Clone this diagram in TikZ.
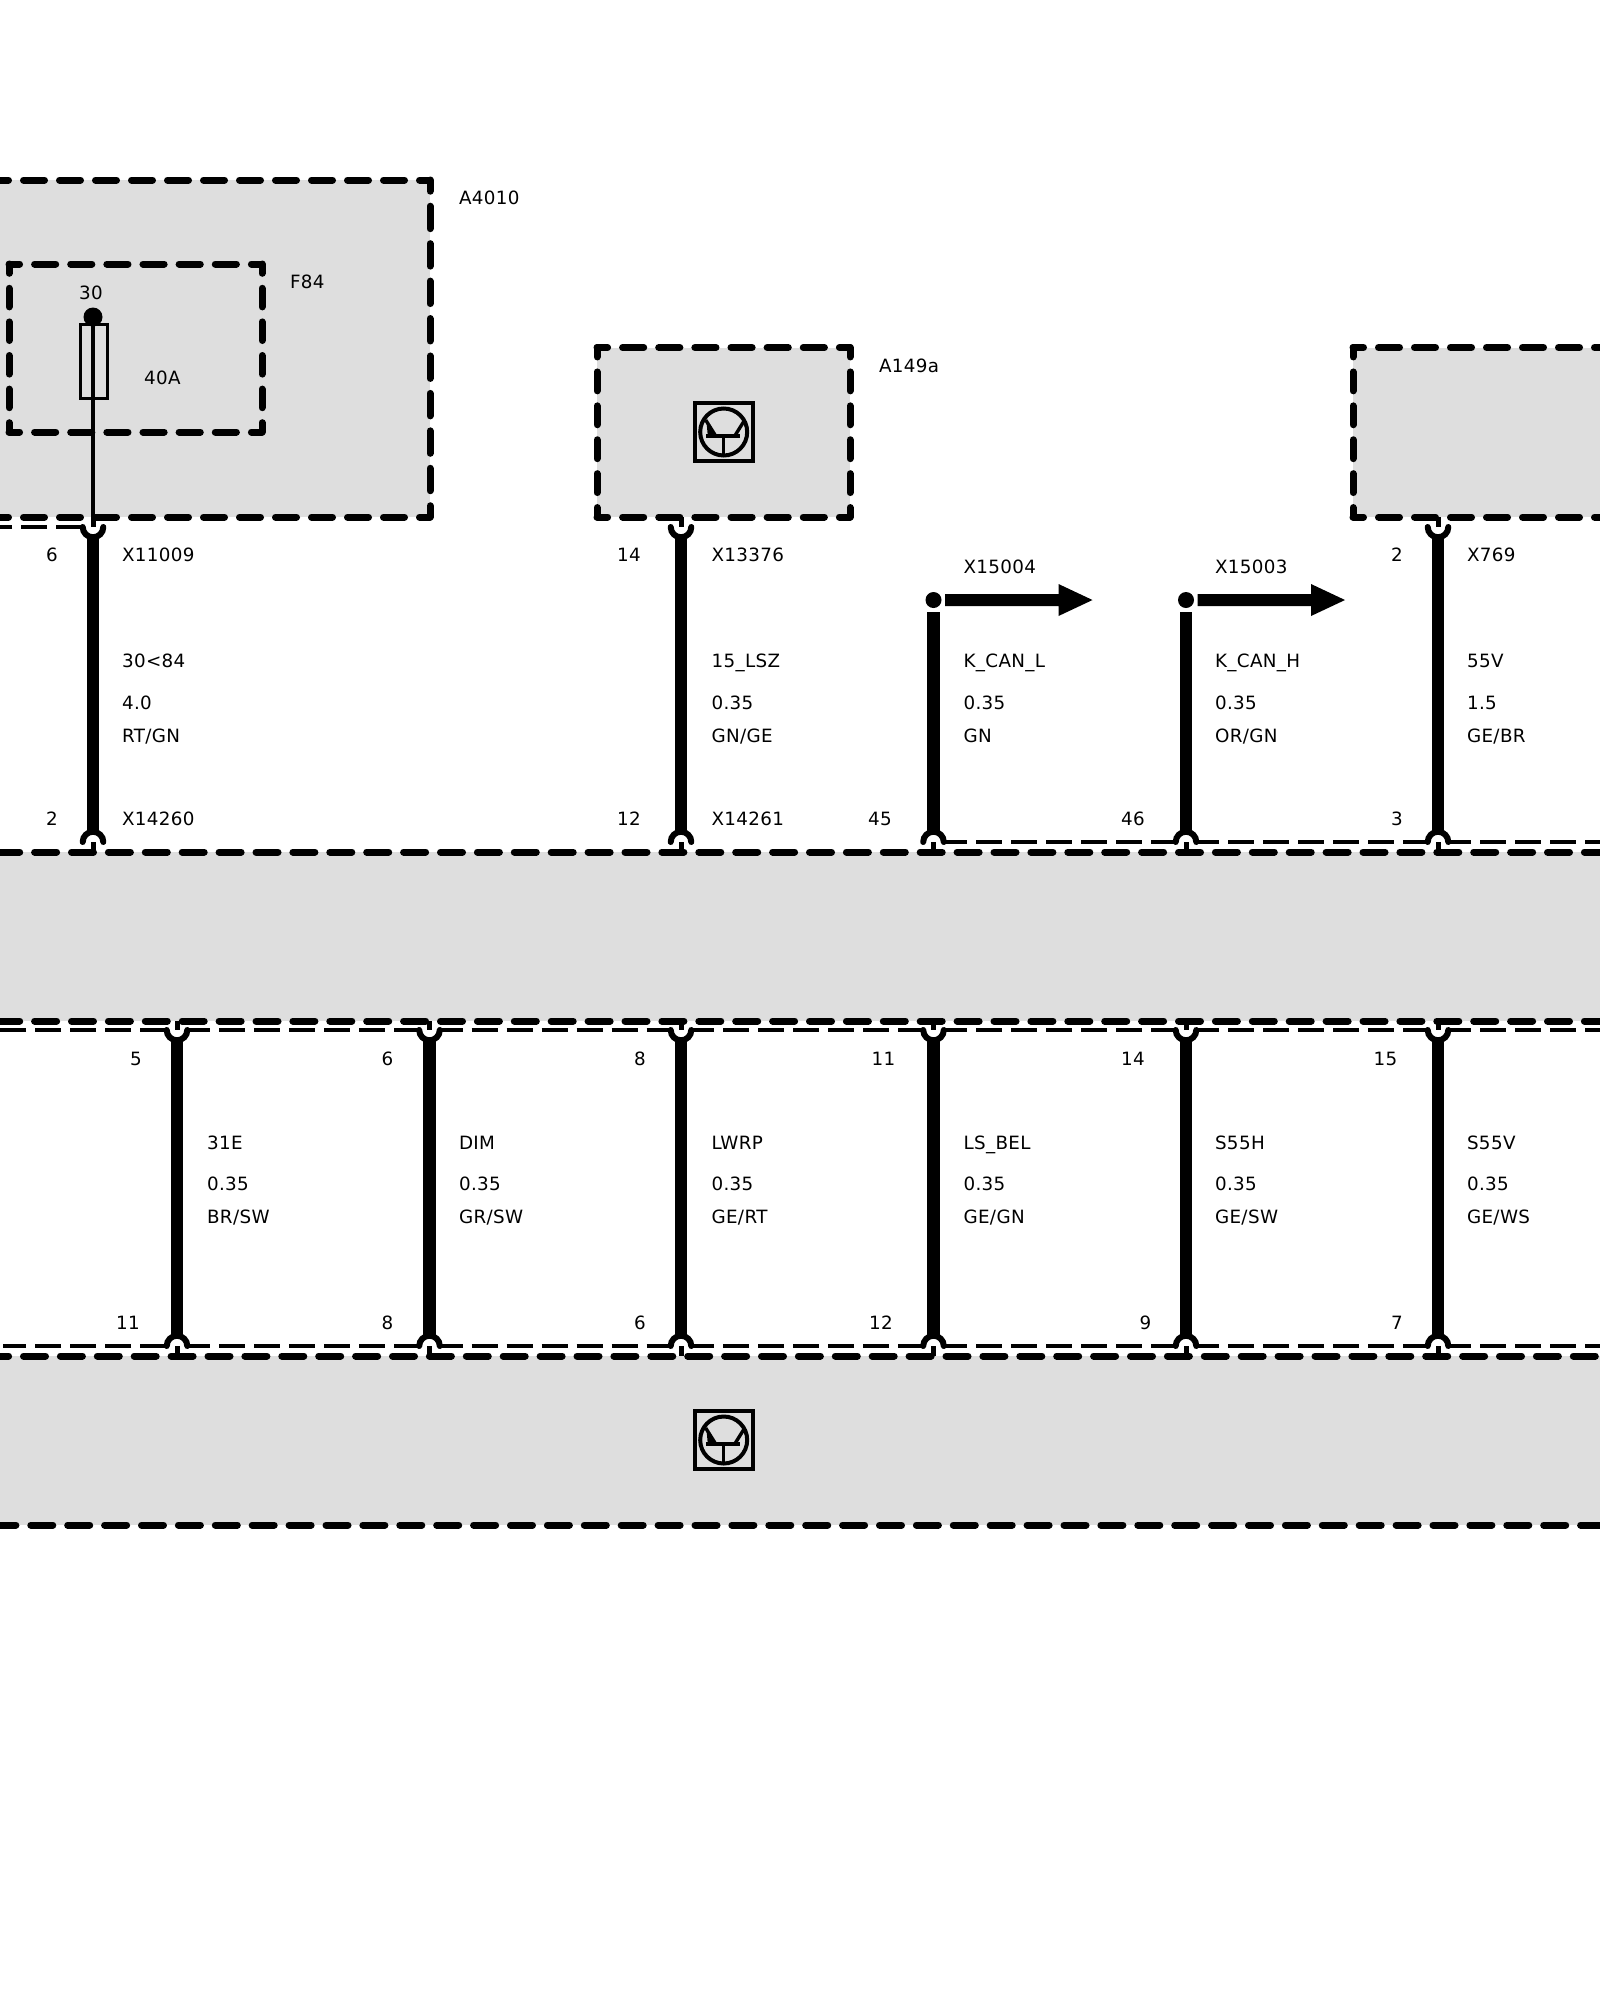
\documentclass[tikz,border=0pt]{standalone}
\usepackage{fontspec}
\setmainfont[LetterSpace=2]{DejaVu Sans}
\definecolor{boxgrey}{HTML}{DEDEDE}
\tikzset{
  lab/.style={anchor=base west,inner sep=0pt,outer sep=0pt,font=\fontsize{18.3}{20}\selectfont},
  area/.style={fill=boxgrey,draw=none,inner sep=0pt,outer sep=0pt},
  heavyline/.style={line width=7pt,line cap=round,black},
  thindash/.style={line width=3.2pt,black,dash pattern=on 26pt off 9pt},
  wire/.style={line width=12.5pt,black},
  sock/.style={line width=6pt,line cap=round,black},
  stub/.style={line width=5pt,black},
  thinwire/.style={line width=3.6pt,black},
  iconbox/.style={draw=black,line width=4pt,minimum size=58pt,inner sep=0pt,outer sep=0pt},
  trans/.pic={
    \draw[line width=4pt] (0,0) circle[radius=23.5];
    \draw[line width=4pt] (-17.5,4) -- (16,4);
    \draw[line width=3.4pt] (0,4) -- (0,23);
    \draw[line width=3.4pt] (-18,-12) -- (-8,4);
    \draw[line width=3.4pt] (21,-12) -- (11,4);
    \fill (-17,-8) -- (-6,4) -- (-16,3) -- cycle;
  }
}
\newcommand{\lbl}[4]{\node[lab] (#1) at (#2,#3) {#4};}
% one side of a box: dashes fitted to the side, half a dash at each corner
\newcommand{\boxside}[3]{%
  \pgfmathsetmacro{\onlen}{#3-15}\pgfmathsetmacro{\phlen}{\onlen/2}%
  \draw[heavyline,dash pattern=on \onlen pt off 15pt,dash phase=\phlen pt] (#1) -- (#2);}
\newcommand{\barline}[2]{%
  \draw[heavyline,dash pattern=on 22pt off 14.9pt,dash phase=#2 pt] (-10,#1) -- (1610,#1);}
\begin{document}
\begin{tikzpicture}[x=1pt,y=-1pt]
\useasboundingbox (0,0) rectangle (1600,2000);
% ---- grey areas
\node[area,minimum width=440pt,minimum height=337pt,anchor=north west] (A4010) at (-10,180) {};
\node[area,minimum width=253pt,minimum height=169.5pt,anchor=north west] (A149a) at (597,347.5) {};
\node[area,minimum width=257pt,minimum height=169.5pt,anchor=north west] (Aright) at (1353,347.5) {};
\node[area,minimum width=1620pt,minimum height=169pt,anchor=north west] (B1) at (-10,852) {};
\node[area,minimum width=1620pt,minimum height=169pt,anchor=north west] (B2) at (-10,1356) {};
% ---- A4010 outline
\boxside{A4010.north east}{A4010.north west}{36}
\boxside{A4010.north east}{A4010.south east}{37.44}
\boxside{A4010.south east}{A4010.south west}{36}
% ---- F84 outline
\coordinate (Fnw) at (9,264); \coordinate (Fne) at (262,264);
\coordinate (Fsw) at (9,432); \coordinate (Fse) at (262,432);
\boxside{Fnw}{Fne}{36.14}\boxside{Fsw}{Fse}{36.14}\boxside{Fnw}{Fsw}{33.6}\boxside{Fne}{Fse}{33.6}
% ---- A149a outline
\boxside{A149a.north west}{A149a.north east}{36.14}
\boxside{A149a.south west}{A149a.south east}{36.14}
\boxside{A149a.north west}{A149a.south west}{33.9}
\boxside{A149a.north east}{A149a.south east}{33.9}
% ---- right box outline
\boxside{Aright.north west}{Aright.north east}{36}
\boxside{Aright.south west}{Aright.south east}{36}
\boxside{Aright.north west}{Aright.south west}{33.9}
% ---- bars
\barline{852}{29.2}
\barline{1021}{29.2}
\barline{1356}{3.4}
\barline{1525}{33}
% ---- thin dashed lines
\foreach \a/\b/\y in {82/-10/527, 166/-10/1030, 166/3/1346}
  \draw[thindash] (\a,\y) -- (\b,\y);
\foreach \a/\b in {945/1175,1197/1427,1449/1610}
  \draw[thindash,dash phase=4pt] (\a,842) -- (\b,842);
\foreach \y in {1030,1346}
  \foreach \a/\b in {188/418.5,440.5/670,692/923,945/1175,1197/1427,1449/1610}
    \draw[thindash,dash phase=4pt] (\a,\y) -- (\b,\y);
% ---- upper row wires, top sockets
\foreach \n/\x in {a/93,b/681,e/1438} {
  \coordinate (ut\n) at (\x,537);
  \coordinate (ub\n) at (\x,832);
  \draw[wire] (ut\n) -- (ub\n);
  \draw[sock] (\x-10.3,527) arc[start angle=180,end angle=0,radius=10.3];
  \draw[stub] (\x,517) -- (\x,527);
}
% ---- upper row: arrows
\foreach \n/\x in {c/933.5,d/1186} {
  \coordinate (ut\n) at (\x,612);
  \coordinate (ub\n) at (\x,832);
  \draw[wire] (ut\n) -- (ub\n);
  \fill (\x,600) circle[radius=8];
  \fill (\x+11.5,594) -- (\x+125,594) -- (\x+125,584) -- (\x+159,600) -- (\x+125,616) -- (\x+125,606) -- (\x+11.5,606) -- cycle;
}
% ---- sockets on top of bar 1
\foreach \x in {93,681,933.5,1186,1438} {
  \draw[sock] (\x-10.3,842) arc[start angle=180,end angle=360,radius=10.3];
  \draw[stub] (\x,842) -- (\x,852);
}
% ---- lower row wires
\foreach \n/\x in {p/177,q/429.5,r/681,s/933.5,t/1186,u/1438} {
  \coordinate (lt\n) at (\x,1041);
  \coordinate (lb\n) at (\x,1336);
  \draw[wire] (lt\n) -- (lb\n);
  \draw[stub] (\x,1021) -- (\x,1030);
  \draw[sock] (\x-10.3,1030) arc[start angle=180,end angle=0,radius=10.3];
  \draw[stub] (\x,1346) -- (\x,1356);
  \draw[sock] (\x-10.3,1346) arc[start angle=180,end angle=360,radius=10.3];
}
% ---- fuse
\coordinate (fuseTop) at (93,317);
\coordinate (fuseEnd) at (93,527);
\fill (fuseTop) circle[radius=9.5];
\draw[thinwire] (fuseTop) -- (fuseEnd);
\node[draw=black,line width=3pt,minimum width=27pt,minimum height=74pt,inner sep=0pt,outer sep=0pt] (fuse) at (93.5,361) {};
% ---- transistor icons
\node[iconbox] (T1) at (723.7,432) {};
\pic at (T1.center) {trans};
\node[iconbox] (T2) at (723.7,1440) {};
\pic at (T2.center) {trans};
% ---- labels
\lbl{lA4010}{459}{204.7}{A4010}
\lbl{lF84}{290}{288.7}{F84}
\lbl{l30}{79}{299.7}{30}
\lbl{l40A}{144}{384.7}{40A}
\lbl{lA149a}{879}{372.7}{A149a}
\lbl{p6}{46}{561.7}{6}
\lbl{xa}{122}{561.7}{X11009}
\lbl{p14}{617}{561.7}{14}
\lbl{xb}{711.5}{561.7}{X13376}
\lbl{xc}{963.5}{573.2}{X15004}
\lbl{xd}{1215}{573.2}{X15003}
\lbl{p2}{1391}{561.7}{2}
\lbl{xe}{1467}{561.7}{X769}
\lbl{na}{122}{667.7}{30<84}
\lbl{sa}{122}{709.7}{4.0}
\lbl{ca}{122}{742.7}{RT/GN}
\lbl{nb}{711.5}{667.7}{15\_LSZ}
\lbl{sb}{711.5}{709.7}{0.35}
\lbl{cb}{711.5}{742.7}{GN/GE}
\lbl{nc}{963.5}{667.7}{K\_CAN\_L}
\lbl{sc}{963.5}{709.7}{0.35}
\lbl{cc}{963.5}{742.7}{GN}
\lbl{nd}{1215}{667.7}{K\_CAN\_H}
\lbl{sd}{1215}{709.7}{0.35}
\lbl{cd}{1215}{742.7}{OR/GN}
\lbl{ne}{1467}{667.7}{55V}
\lbl{se}{1467}{709.7}{1.5}
\lbl{ce}{1467}{742.7}{GE/BR}
\lbl{q2}{46}{825.7}{2}
\lbl{ya}{122}{825.7}{X14260}
\lbl{q12}{617}{825.7}{12}
\lbl{yb}{711.5}{825.7}{X14261}
\lbl{q45}{868}{825.7}{45}
\lbl{q46}{1121}{825.7}{46}
\lbl{q3}{1391}{825.7}{3}
\lbl{r5}{130}{1065.7}{5}
\lbl{r6}{381.5}{1065.7}{6}
\lbl{r8}{634}{1065.7}{8}
\lbl{r11}{871.5}{1065.7}{11}
\lbl{r14}{1121}{1065.7}{14}
\lbl{r15}{1373.5}{1065.7}{15}
\lbl{np}{207}{1149.7}{31E}
\lbl{sp}{207}{1190.7}{0.35}
\lbl{cp}{207}{1223.7}{BR/SW}
\lbl{nq}{459}{1149.7}{DIM}
\lbl{sq}{459}{1190.7}{0.35}
\lbl{cq}{459}{1223.7}{GR/SW}
\lbl{nr}{711.5}{1149.7}{LWRP}
\lbl{sr}{711.5}{1190.7}{0.35}
\lbl{cr}{711.5}{1223.7}{GE/RT}
\lbl{ns}{963.5}{1149.7}{LS\_BEL}
\lbl{ss}{963.5}{1190.7}{0.35}
\lbl{cs}{963.5}{1223.7}{GE/GN}
\lbl{nt}{1215}{1149.7}{S55H}
\lbl{st}{1215}{1190.7}{0.35}
\lbl{ct}{1215}{1223.7}{GE/SW}
\lbl{nu}{1467}{1149.7}{S55V}
\lbl{su}{1467}{1190.7}{0.35}
\lbl{cu}{1467}{1223.7}{GE/WS}
\lbl{t11}{116}{1329.7}{11}
\lbl{t8}{381.5}{1329.7}{8}
\lbl{t6}{634}{1329.7}{6}
\lbl{t12}{869}{1329.7}{12}
\lbl{t9}{1139.5}{1329.7}{9}
\lbl{t7}{1391}{1329.7}{7}
\end{tikzpicture}
\end{document}
